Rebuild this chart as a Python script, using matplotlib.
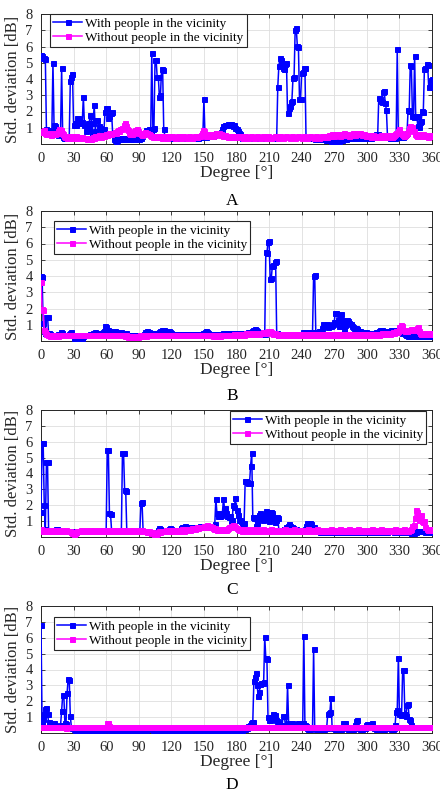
import numpy as np
import matplotlib as mpl
from matplotlib import pyplot as plt

mpl.rcParams['font.family'] = ['Liberation Serif', 'DejaVu Serif']
mpl.rcParams['mathtext.fontset'] = 'stix'

DEGREES = np.arange(0, 361)
X_TICKS = np.arange(0, 361, 30)
Y_TICKS = np.arange(1, 9)
LABEL_WITH = 'With people in the vicinity'
LABEL_WITHOUT = 'Without people in the vicinity'
PANEL_NAMES = ['A', 'B', 'C', 'D']

# --- panel A ---
A_WITH = [
    5.5, 5.4, 5.3, 5.3, 5.25, 0.9, 0.85, 0.6, 0.7, 0.6, 0.8, 5.0, 1.2, 1.1, 0.8, 0.7, 0.55, 0.6, 0.8, 4.65,
    0.45, 0.4, 0.35, 0.4, 0.35, 0.4, 0.45, 3.9, 4.1, 4.3, 1.2, 1.3, 1.2, 1.6, 1.6, 1.3, 1.3, 1.3, 1.35, 2.9,
    1.2, 0.8, 1.2, 1.3, 0.9, 1.8, 1.7, 0.7, 1.3, 2.4, 0.8, 1.5, 1.45, 1.1, 1.0, 0.6, 0.55, 0.6, 0.9, 2.0,
    2.2, 2.2, 1.6, 1.7, 1.9, 1.95, 0.6, 0.3, 0.25, 0.2, 0.25, 0.3, 0.3, 0.35, 0.3, 0.3, 0.35, 0.3, 0.3, 0.35,
    0.3, 0.35, 0.3, 0.35, 0.4, 0.35, 0.3, 0.35, 0.4, 0.35, 0.3, 0.35, 0.4, 0.5, 0.6, 0.7, 0.7, 0.85, 0.85, 0.9,
    0.8, 0.7, 5.6, 0.95, 1.0, 5.2, 5.15, 4.1, 4.15, 2.9, 3.0, 4.6, 4.55, 0.95, 0.5, 0.45, 0.4, 0.4, 0.45, 0.4,
    0.4, 0.35, 0.4, 0.4, 0.45, 0.4, 0.35, 0.4, 0.4, 0.45, 0.4, 0.4, 0.35, 0.4, 0.45, 0.4, 0.4, 0.35, 0.4, 0.4,
    0.45, 0.4, 0.4, 0.35, 0.4, 0.4, 0.45, 0.45, 0.5, 0.5, 2.75, 0.5, 0.45, 0.5, 0.55, 0.5, 0.5, 0.55, 0.5, 0.55,
    0.6, 0.7, 0.7, 0.7, 0.65, 0.7, 0.75, 0.9, 1.1, 1.15, 1.2, 1.2, 1.25, 1.2, 1.15, 1.25, 1.2, 1.1, 1.15, 1.0,
    0.9, 0.8, 0.7, 0.6, 0.45, 0.4, 0.4, 0.35, 0.4, 0.4, 0.45, 0.4, 0.4, 0.35, 0.4, 0.4, 0.45, 0.4, 0.4, 0.35,
    0.4, 0.4, 0.45, 0.4, 0.35, 0.4, 0.4, 0.45, 0.4, 0.4, 0.35, 0.4, 0.4, 0.45, 0.4, 0.4, 0.35, 0.4, 3.5, 4.8,
    5.3, 5.2, 4.95, 4.7, 4.6, 4.9, 5.0, 1.9, 2.2, 2.35, 2.6, 2.65, 4.05, 4.1, 7.0, 7.15, 6.05, 6.0, 2.75, 2.8,
    4.35, 4.45, 4.7, 4.65, 0.45, 0.4, 0.35, 0.4, 0.4, 0.35, 0.4, 0.35, 0.3, 0.35, 0.4, 0.35, 0.3, 0.35, 0.3, 0.35,
    0.3, 0.3, 0.25, 0.3, 0.25, 0.3, 0.25, 0.2, 0.25, 0.2, 0.25, 0.2, 0.2, 0.25, 0.2, 0.25, 0.3, 0.25, 0.3, 0.3,
    0.35, 0.3, 0.35, 0.4, 0.35, 0.4, 0.35, 0.4, 0.4, 0.35, 0.4, 0.4, 0.45, 0.4, 0.4, 0.35, 0.4, 0.4, 0.35, 0.4,
    0.4, 0.35, 0.4, 0.45, 0.4, 0.45, 0.5, 0.55, 0.6, 0.55, 0.6, 2.85, 2.8, 2.65, 2.6, 3.2, 3.25, 2.5, 2.1, 0.5,
    0.45, 0.4, 0.35, 0.4, 0.4, 0.45, 0.4, 0.45, 5.85, 0.5, 0.45, 0.45, 0.5, 0.45, 0.5, 0.55, 0.6, 0.7, 2.1, 2.05,
    4.85, 4.8, 1.7, 1.65, 5.4, 1.7, 1.7, 1.1, 1.05, 1.35, 1.4, 2.05, 2.0, 4.6, 4.7, 4.9, 4.85, 3.5, 3.6, 3.95,
    4.0,
]
A_WITHOUT = [
    0.8, 0.75, 0.8, 0.85, 0.7, 0.6, 0.65, 0.6, 0.7, 0.55, 0.65, 0.6, 0.7, 0.6, 0.65, 0.7, 0.8, 0.9, 0.85, 0.7,
    0.6, 0.5, 0.45, 0.5, 0.4, 0.45, 0.4, 0.45, 0.5, 0.45, 0.4, 0.45, 0.5, 0.4, 0.45, 0.4, 0.35, 0.4, 0.45, 0.4,
    0.4, 0.35, 0.3, 0.35, 0.4, 0.35, 0.3, 0.4, 0.45, 0.4, 0.5, 0.45, 0.5, 0.55, 0.5, 0.45, 0.5, 0.55, 0.5, 0.55,
    0.6, 0.55, 0.6, 0.65, 0.6, 0.7, 0.65, 0.7, 0.75, 0.7, 0.8, 0.85, 0.8, 0.9, 0.95, 1.0, 1.15, 1.3, 1.1, 0.9,
    0.85, 0.7, 0.6, 0.65, 0.6, 0.7, 0.8, 0.85, 0.9, 0.8, 0.7, 0.65, 0.6, 0.55, 0.6, 0.7, 0.75, 0.7, 0.65, 0.6,
    0.55, 0.5, 0.5, 0.45, 0.5, 0.45, 0.5, 0.45, 0.45, 0.5, 0.45, 0.4, 0.45, 0.5, 0.45, 0.45, 0.4, 0.45, 0.5, 0.45,
    0.45, 0.5, 0.45, 0.4, 0.45, 0.45, 0.5, 0.45, 0.45, 0.4, 0.45, 0.5, 0.45, 0.45, 0.4, 0.45, 0.5, 0.45, 0.45, 0.4,
    0.45, 0.45, 0.5, 0.45, 0.45, 0.5, 0.5, 0.55, 0.7, 0.85, 0.8, 0.6, 0.5, 0.55, 0.5, 0.55, 0.6, 0.55, 0.5, 0.55,
    0.6, 0.65, 0.7, 0.6, 0.65, 0.55, 0.6, 0.55, 0.5, 0.55, 0.5, 0.5, 0.45, 0.5, 0.45, 0.5, 0.45, 0.5, 0.45, 0.45,
    0.5, 0.45, 0.45, 0.5, 0.45, 0.45, 0.4, 0.45, 0.5, 0.45, 0.45, 0.4, 0.45, 0.5, 0.45, 0.45, 0.4, 0.45, 0.45, 0.5,
    0.45, 0.45, 0.4, 0.45, 0.5, 0.45, 0.45, 0.4, 0.45, 0.5, 0.45, 0.45, 0.4, 0.45, 0.45, 0.5, 0.45, 0.45, 0.4, 0.45,
    0.5, 0.45, 0.45, 0.4, 0.45, 0.45, 0.5, 0.45, 0.45, 0.4, 0.45, 0.5, 0.45, 0.45, 0.4, 0.45, 0.45, 0.5, 0.45, 0.45,
    0.4, 0.45, 0.5, 0.45, 0.45, 0.4, 0.45, 0.45, 0.5, 0.45, 0.45, 0.4, 0.45, 0.5, 0.45, 0.45, 0.4, 0.45, 0.45, 0.5,
    0.45, 0.45, 0.5, 0.45, 0.5, 0.55, 0.5, 0.55, 0.6, 0.55, 0.5, 0.55, 0.6, 0.55, 0.6, 0.5, 0.55, 0.6, 0.55, 0.65,
    0.6, 0.55, 0.6, 0.55, 0.5, 0.55, 0.6, 0.65, 0.6, 0.55, 0.6, 0.65, 0.6, 0.65, 0.7, 0.6, 0.55, 0.6, 0.55, 0.5,
    0.55, 0.5, 0.55, 0.5, 0.45, 0.5, 0.55, 0.5, 0.45, 0.5, 0.5, 0.45, 0.5, 0.55, 0.5, 0.45, 0.5, 0.55, 0.5, 0.45,
    0.5, 0.55, 0.5, 0.45, 0.5, 0.55, 0.6, 0.65, 0.7, 0.8, 0.9, 0.7, 0.6, 0.55, 0.5, 0.55, 0.6, 0.65, 0.8, 1.0,
    1.1, 1.0, 1.05, 0.8, 0.6, 0.55, 0.5, 0.55, 0.6, 0.55, 0.5, 0.55, 0.6, 0.5, 0.55, 0.5, 0.45, 0.5, 0.55, 0.5,
    0.5,
]

# --- panel B ---
B_WITH = [
    4.0, 3.95, 1.1, 0.6, 0.5, 1.5, 1.5, 0.5, 0.45, 0.4, 0.4, 0.35, 0.4, 0.4, 0.35, 0.4, 0.45, 0.4, 0.55, 0.5,
    0.4, 0.35, 0.4, 0.35, 0.4, 0.4, 0.45, 0.5, 0.55, 0.4, 0.2, 0.15, 0.1, 0.15, 0.1, 0.15, 0.1, 0.15, 0.2, 0.3,
    0.35, 0.4, 0.35, 0.4, 0.4, 0.45, 0.4, 0.45, 0.5, 0.5, 0.55, 0.5, 0.45, 0.5, 0.45, 0.5, 0.5, 0.55, 0.6, 0.9,
    0.85, 0.7, 0.65, 0.6, 0.55, 0.6, 0.55, 0.6, 0.6, 0.55, 0.5, 0.55, 0.5, 0.5, 0.55, 0.5, 0.5, 0.45, 0.5, 0.4,
    0.35, 0.3, 0.35, 0.3, 0.35, 0.3, 0.3, 0.35, 0.3, 0.35, 0.3, 0.35, 0.4, 0.35, 0.4, 0.45, 0.55, 0.55, 0.6, 0.55,
    0.5, 0.45, 0.45, 0.5, 0.45, 0.5, 0.45, 0.5, 0.5, 0.55, 0.6, 0.65, 0.6, 0.65, 0.6, 0.55, 0.5, 0.55, 0.6, 0.55,
    0.5, 0.45, 0.45, 0.4, 0.45, 0.4, 0.45, 0.4, 0.45, 0.45, 0.4, 0.45, 0.4, 0.45, 0.4, 0.45, 0.45, 0.4, 0.45, 0.4,
    0.45, 0.4, 0.45, 0.45, 0.4, 0.45, 0.4, 0.45, 0.45, 0.5, 0.5, 0.55, 0.6, 0.55, 0.5, 0.45, 0.45, 0.4, 0.45, 0.4,
    0.45, 0.4, 0.45, 0.4, 0.45, 0.45, 0.4, 0.45, 0.5, 0.45, 0.45, 0.5, 0.45, 0.5, 0.45, 0.5, 0.45, 0.45, 0.5, 0.45,
    0.5, 0.45, 0.5, 0.45, 0.5, 0.5, 0.45, 0.5, 0.45, 0.5, 0.5, 0.55, 0.5, 0.55, 0.6, 0.65, 0.7, 0.75, 0.7, 0.6,
    0.5, 0.55, 0.5, 0.5, 0.45, 0.5, 0.45, 5.45, 5.4, 6.1, 6.15, 3.8, 3.85, 4.6, 4.7, 4.85, 4.9, 0.5, 0.4, 0.35,
    0.4, 0.35, 0.4, 0.35, 0.4, 0.4, 0.35, 0.4, 0.4, 0.35, 0.4, 0.4, 0.35, 0.4, 0.4, 0.45, 0.4, 0.4, 0.45, 0.4,
    0.45, 0.55, 0.55, 0.5, 0.5, 0.55, 0.5, 0.5, 0.55, 0.5, 0.55, 4.0, 4.05, 0.55, 0.5, 0.55, 0.6, 0.55, 0.6, 0.8,
    1.05, 1.0, 0.9, 1.05, 0.85, 0.95, 1.0, 0.9, 1.0, 1.05, 1.2, 1.75, 1.7, 1.3, 0.9, 1.6, 1.65, 1.3, 1.0, 0.75,
    1.0, 1.15, 1.3, 1.25, 1.1, 1.05, 0.95, 0.85, 0.8, 0.75, 0.8, 0.75, 0.6, 0.55, 0.6, 0.55, 0.5, 0.55, 0.5, 0.55,
    0.5, 0.45, 0.5, 0.45, 0.5, 0.45, 0.5, 0.5, 0.55, 0.5, 0.55, 0.6, 0.65, 0.6, 0.65, 0.6, 0.55, 0.6, 0.6, 0.55,
    0.6, 0.6, 0.65, 0.6, 0.65, 0.6, 0.65, 0.7, 0.7, 0.65, 0.7, 0.55, 0.5, 0.55, 0.5, 0.45, 0.4, 0.35, 0.3, 0.35,
    0.3, 0.35, 0.3, 0.3, 0.35, 0.3, 0.3, 0.35, 0.3, 0.3, 0.35, 0.3, 0.3, 0.35, 0.3, 0.3, 0.35, 0.3, 0.3, 0.3,
    0.3,
]
B_WITHOUT = [
    3.65, 2.0, 1.9, 0.7, 0.55, 0.45, 0.4, 0.35, 0.3, 0.35, 0.3, 0.35, 0.3, 0.35, 0.4, 0.35, 0.3, 0.35, 0.4, 0.35,
    0.35, 0.4, 0.35, 0.4, 0.35, 0.4, 0.4, 0.35, 0.4, 0.35, 0.4, 0.4, 0.35, 0.4, 0.4, 0.35, 0.4, 0.4, 0.35, 0.4,
    0.4, 0.35, 0.4, 0.4, 0.35, 0.4, 0.4, 0.35, 0.4, 0.4, 0.35, 0.4, 0.4, 0.35, 0.4, 0.4, 0.35, 0.4, 0.4, 0.35,
    0.4, 0.4, 0.35, 0.4, 0.4, 0.35, 0.4, 0.4, 0.35, 0.4, 0.4, 0.35, 0.4, 0.4, 0.35, 0.4, 0.35, 0.3, 0.35, 0.3,
    0.25, 0.3, 0.25, 0.3, 0.25, 0.3, 0.25, 0.3, 0.3, 0.25, 0.3, 0.35, 0.3, 0.35, 0.3, 0.35, 0.35, 0.3, 0.35, 0.35,
    0.4, 0.35, 0.35, 0.4, 0.35, 0.4, 0.4, 0.35, 0.4, 0.4, 0.35, 0.4, 0.4, 0.35, 0.4, 0.4, 0.35, 0.4, 0.4, 0.35,
    0.4, 0.4, 0.35, 0.4, 0.4, 0.35, 0.4, 0.4, 0.35, 0.4, 0.4, 0.35, 0.4, 0.4, 0.35, 0.4, 0.4, 0.35, 0.4, 0.4,
    0.35, 0.4, 0.4, 0.35, 0.4, 0.4, 0.35, 0.4, 0.4, 0.35, 0.4, 0.4, 0.35, 0.4, 0.4, 0.35, 0.4, 0.35, 0.3, 0.35,
    0.3, 0.35, 0.3, 0.35, 0.35, 0.3, 0.35, 0.35, 0.4, 0.35, 0.4, 0.4, 0.35, 0.4, 0.4, 0.35, 0.4, 0.4, 0.45, 0.4,
    0.45, 0.4, 0.45, 0.45, 0.4, 0.45, 0.45, 0.4, 0.45, 0.5, 0.45, 0.5, 0.45, 0.5, 0.5, 0.45, 0.5, 0.5, 0.45, 0.5,
    0.5, 0.45, 0.5, 0.5, 0.55, 0.5, 0.55, 0.5, 0.55, 0.6, 0.55, 0.6, 0.55, 0.5, 0.45, 0.5, 0.45, 0.45, 0.4, 0.45,
    0.45, 0.4, 0.45, 0.45, 0.4, 0.45, 0.45, 0.4, 0.45, 0.45, 0.4, 0.45, 0.45, 0.4, 0.45, 0.45, 0.4, 0.45, 0.45, 0.4,
    0.45, 0.45, 0.4, 0.45, 0.45, 0.4, 0.45, 0.45, 0.4, 0.45, 0.45, 0.4, 0.45, 0.45, 0.4, 0.45, 0.45, 0.4, 0.45, 0.45,
    0.4, 0.45, 0.45, 0.4, 0.45, 0.45, 0.4, 0.45, 0.45, 0.4, 0.45, 0.45, 0.4, 0.45, 0.45, 0.4, 0.45, 0.45, 0.4, 0.45,
    0.45, 0.4, 0.45, 0.45, 0.4, 0.45, 0.45, 0.4, 0.45, 0.45, 0.4, 0.45, 0.45, 0.4, 0.45, 0.45, 0.4, 0.45, 0.45, 0.4,
    0.45, 0.45, 0.4, 0.45, 0.45, 0.4, 0.45, 0.45, 0.4, 0.45, 0.45, 0.4, 0.45, 0.45, 0.5, 0.45, 0.5, 0.5, 0.45, 0.5,
    0.5, 0.45, 0.5, 0.5, 0.55, 0.5, 0.55, 0.6, 0.55, 0.6, 0.85, 1.0, 0.95, 0.7, 0.65, 0.6, 0.65, 0.6, 0.65, 0.7,
    0.7, 0.75, 0.7, 0.75, 0.7, 0.75, 0.8, 0.85, 0.6, 0.5, 0.45, 0.5, 0.45, 0.5, 0.45, 0.5, 0.45, 0.5, 0.45, 0.5,
    0.45,
]

# --- panel C ---
C_WITH = [
    1.6, 5.9, 5.9, 2.0, 0.5, 4.7, 4.7, 0.4, 0.35, 0.4, 0.35, 0.4, 0.4, 0.45, 0.5, 0.5, 0.45, 0.4, 0.35, 0.4,
    0.35, 0.4, 0.35, 0.4, 0.4, 0.35, 0.4, 0.35, 0.4, 0.35, 0.3, 0.35, 0.3, 0.35, 0.4, 0.35, 0.4, 0.35, 0.4, 0.4,
    0.35, 0.4, 0.35, 0.4, 0.4, 0.35, 0.4, 0.35, 0.4, 0.4, 0.35, 0.4, 0.35, 0.4, 0.4, 0.35, 0.4, 0.35, 0.4, 0.4,
    0.45, 5.45, 5.5, 1.5, 1.45, 0.4, 0.35, 0.35, 0.4, 0.35, 0.35, 0.4, 0.35, 0.35, 0.4, 5.3, 5.3, 2.95, 2.9, 0.35,
    0.35, 0.4, 0.35, 0.35, 0.4, 0.35, 0.35, 0.4, 0.35, 0.35, 0.4, 0.4, 2.15, 2.2, 0.4, 0.4, 0.35, 0.4, 0.35, 0.3,
    0.3, 0.25, 0.3, 0.25, 0.2, 0.25, 0.2, 0.3, 0.45, 0.55, 0.5, 0.4, 0.35, 0.4, 0.35, 0.4, 0.35, 0.4, 0.5, 0.55,
    0.5, 0.45, 0.4, 0.45, 0.4, 0.45, 0.4, 0.45, 0.45, 0.55, 0.6, 0.55, 0.6, 0.7, 0.65, 0.55, 0.5, 0.55, 0.6, 0.55,
    0.6, 0.6, 0.55, 0.6, 0.65, 0.6, 0.7, 0.65, 0.6, 0.65, 0.7, 0.65, 0.6, 0.65, 0.7, 0.6, 0.65, 0.7, 0.65, 0.7,
    0.8, 2.4, 1.5, 1.35, 1.3, 1.3, 1.4, 1.5, 2.4, 1.8, 1.5, 1.3, 1.3, 1.25, 1.3, 0.9, 1.1, 2.0, 1.9, 2.45,
    1.7, 1.4, 1.05, 1.1, 1.0, 0.9, 0.85, 0.9, 3.55, 3.5, 3.45, 3.4, 3.4, 4.5, 5.3, 1.25, 1.2, 1.25, 0.7, 0.9,
    1.2, 1.4, 1.5, 1.3, 1.05, 1.2, 1.4, 1.65, 1.5, 1.25, 1.0, 1.6, 1.55, 1.5, 1.2, 0.95, 1.1, 1.25, 1.2, 0.45,
    0.4, 0.45, 0.4, 0.45, 0.5, 0.45, 0.6, 0.7, 0.8, 0.7, 0.55, 0.6, 0.55, 0.5, 0.45, 0.5, 0.45, 0.4, 0.45, 0.4,
    0.45, 0.4, 0.45, 0.5, 0.7, 0.9, 0.85, 0.65, 0.9, 0.85, 0.65, 0.6, 0.5, 0.4, 0.35, 0.4, 0.35, 0.3, 0.35, 0.3,
    0.35, 0.3, 0.35, 0.3, 0.35, 0.3, 0.35, 0.3, 0.35, 0.3, 0.35, 0.3, 0.35, 0.3, 0.35, 0.3, 0.35, 0.3, 0.35, 0.3,
    0.35, 0.3, 0.35, 0.3, 0.35, 0.3, 0.35, 0.3, 0.35, 0.3, 0.35, 0.3, 0.35, 0.3, 0.35, 0.3, 0.35, 0.3, 0.35, 0.3,
    0.35, 0.3, 0.35, 0.3, 0.35, 0.3, 0.35, 0.3, 0.35, 0.3, 0.35, 0.3, 0.35, 0.3, 0.35, 0.3, 0.35, 0.3, 0.35, 0.3,
    0.35, 0.4, 0.45, 0.4, 0.35, 0.3, 0.35, 0.3, 0.35, 0.3, 0.35, 0.3, 0.35, 0.3, 0.35, 0.3, 0.35, 0.3, 0.35, 0.3,
    0.3, 0.25, 0.3, 0.25, 0.3, 0.3, 0.35, 0.4, 0.4, 0.35, 0.4, 0.35, 0.4, 0.35, 0.3, 0.35, 0.3, 0.35, 0.3, 0.35,
    0.3,
]
C_WITHOUT = [
    0.5, 0.45, 0.4, 0.45, 0.4, 0.35, 0.4, 0.45, 0.4, 0.35, 0.4, 0.45, 0.4, 0.35, 0.4, 0.45, 0.4, 0.35, 0.4, 0.45,
    0.4, 0.35, 0.4, 0.45, 0.4, 0.35, 0.4, 0.35, 0.3, 0.25, 0.2, 0.25, 0.3, 0.35, 0.4, 0.35, 0.4, 0.45, 0.4, 0.35,
    0.4, 0.45, 0.4, 0.35, 0.4, 0.45, 0.4, 0.35, 0.4, 0.45, 0.4, 0.35, 0.4, 0.45, 0.4, 0.35, 0.4, 0.45, 0.4, 0.35,
    0.4, 0.45, 0.4, 0.35, 0.4, 0.45, 0.4, 0.35, 0.4, 0.45, 0.4, 0.35, 0.4, 0.45, 0.4, 0.35, 0.4, 0.45, 0.4, 0.35,
    0.4, 0.45, 0.4, 0.35, 0.4, 0.45, 0.4, 0.35, 0.4, 0.45, 0.4, 0.35, 0.4, 0.45, 0.4, 0.35, 0.4, 0.35, 0.3, 0.35,
    0.3, 0.25, 0.3, 0.25, 0.2, 0.25, 0.2, 0.25, 0.3, 0.35, 0.3, 0.35, 0.4, 0.35, 0.4, 0.45, 0.4, 0.35, 0.4, 0.45,
    0.4, 0.45, 0.4, 0.35, 0.4, 0.45, 0.4, 0.45, 0.4, 0.45, 0.5, 0.45, 0.4, 0.45, 0.5, 0.45, 0.5, 0.45, 0.5, 0.55,
    0.5, 0.55, 0.5, 0.55, 0.6, 0.55, 0.6, 0.65, 0.6, 0.65, 0.7, 0.65, 0.7, 0.75, 0.7, 0.65, 0.7, 0.6, 0.55, 0.5,
    0.55, 0.5, 0.45, 0.5, 0.45, 0.5, 0.45, 0.5, 0.45, 0.5, 0.45, 0.5, 0.55, 0.6, 0.65, 0.7, 0.65, 0.75, 0.7, 0.6,
    0.55, 0.5, 0.45, 0.5, 0.45, 0.4, 0.45, 0.5, 0.45, 0.4, 0.45, 0.5, 0.45, 0.4, 0.45, 0.5, 0.45, 0.4, 0.45, 0.5,
    0.4, 0.45, 0.4, 0.45, 0.5, 0.45, 0.4, 0.45, 0.4, 0.45, 0.4, 0.45, 0.5, 0.45, 0.4, 0.45, 0.4, 0.45, 0.4, 0.45,
    0.45, 0.4, 0.45, 0.4, 0.45, 0.5, 0.45, 0.4, 0.45, 0.4, 0.45, 0.4, 0.45, 0.5, 0.45, 0.4, 0.45, 0.4, 0.45, 0.4,
    0.4, 0.45, 0.4, 0.45, 0.4, 0.45, 0.5, 0.45, 0.4, 0.45, 0.4, 0.45, 0.4, 0.45, 0.5, 0.45, 0.4, 0.45, 0.4, 0.45,
    0.45, 0.4, 0.45, 0.4, 0.45, 0.4, 0.45, 0.5, 0.45, 0.4, 0.45, 0.4, 0.45, 0.4, 0.45, 0.5, 0.45, 0.4, 0.45, 0.4,
    0.4, 0.45, 0.4, 0.45, 0.5, 0.45, 0.4, 0.45, 0.4, 0.45, 0.4, 0.45, 0.5, 0.45, 0.4, 0.45, 0.4, 0.45, 0.4, 0.45,
    0.45, 0.4, 0.45, 0.4, 0.45, 0.5, 0.45, 0.4, 0.45, 0.4, 0.45, 0.4, 0.45, 0.5, 0.45, 0.4, 0.45, 0.4, 0.45, 0.4,
    0.4, 0.45, 0.4, 0.45, 0.4, 0.45, 0.5, 0.45, 0.4, 0.45, 0.4, 0.45, 0.4, 0.45, 0.5, 0.45, 0.4, 0.45, 0.4, 0.45,
    0.45, 0.5, 0.7, 0.75, 1.2, 1.7, 1.6, 1.4, 1.1, 1.35, 1.4, 1.0, 0.95, 1.0, 0.6, 0.5, 0.45, 0.5, 0.45, 0.5,
    0.45,
]

# --- panel D ---
D_WITH = [
    6.8, 0.65, 0.9, 1.2, 1.5, 1.6, 1.2, 0.7, 0.6, 0.55, 0.5, 0.6, 0.65, 0.5, 0.4, 0.4, 0.45, 0.4, 0.5, 1.4,
    2.4, 2.4, 0.6, 0.55, 2.5, 3.4, 3.35, 1.05, 0.35, 0.3, 0.25, 0.2, 0.25, 0.2, 0.25, 0.2, 0.25, 0.2, 0.25, 0.2,
    0.25, 0.2, 0.25, 0.3, 0.25, 0.2, 0.25, 0.3, 0.25, 0.2, 0.25, 0.3, 0.25, 0.2, 0.25, 0.3, 0.25, 0.2, 0.25, 0.3,
    0.25, 0.3, 0.25, 0.2, 0.25, 0.3, 0.25, 0.2, 0.25, 0.3, 0.25, 0.2, 0.25, 0.15, 0.2, 0.15, 0.2, 0.25, 0.2, 0.25,
    0.25, 0.2, 0.25, 0.3, 0.25, 0.2, 0.25, 0.3, 0.25, 0.2, 0.25, 0.3, 0.25, 0.2, 0.25, 0.3, 0.25, 0.2, 0.25, 0.3,
    0.25, 0.3, 0.25, 0.2, 0.25, 0.3, 0.25, 0.2, 0.25, 0.3, 0.25, 0.2, 0.25, 0.3, 0.25, 0.2, 0.25, 0.3, 0.25, 0.2,
    0.25, 0.2, 0.25, 0.3, 0.25, 0.2, 0.25, 0.3, 0.25, 0.2, 0.25, 0.3, 0.25, 0.2, 0.25, 0.3, 0.25, 0.2, 0.25, 0.3,
    0.25, 0.3, 0.25, 0.2, 0.25, 0.3, 0.25, 0.2, 0.25, 0.3, 0.25, 0.2, 0.25, 0.3, 0.25, 0.2, 0.25, 0.3, 0.25, 0.2,
    0.25, 0.2, 0.25, 0.3, 0.25, 0.2, 0.25, 0.3, 0.25, 0.2, 0.25, 0.3, 0.25, 0.2, 0.25, 0.3, 0.25, 0.2, 0.25, 0.3,
    0.25, 0.2, 0.25, 0.3, 0.25, 0.2, 0.25, 0.3, 0.25, 0.3, 0.3, 0.45, 0.5, 0.6, 0.7, 0.7, 3.3, 3.5, 3.8, 3.0,
    2.3, 2.6, 3.1, 3.15, 3.15, 3.2, 6.05, 4.7, 4.65, 1.0, 0.85, 0.8, 0.9, 1.0, 1.2, 1.15, 0.8, 0.75, 0.6, 0.7,
    0.5, 0.4, 0.5, 1.1, 1.1, 0.5, 0.5, 3.0, 0.6, 0.6, 0.55, 0.6, 0.45, 0.4, 0.4, 0.5, 0.55, 0.6, 0.6, 0.6,
    0.5, 0.6, 6.1, 0.5, 0.45, 0.3, 0.25, 0.3, 0.25, 0.3, 0.3, 5.3, 0.3, 0.25, 0.3, 0.25, 0.3, 0.25, 0.3, 0.25,
    0.3, 0.25, 0.3, 0.3, 1.2, 1.25, 1.3, 2.2, 0.4, 0.3, 0.3, 0.25, 0.3, 0.25, 0.3, 0.3, 0.25, 0.4, 0.6, 0.65,
    0.6, 0.4, 0.3, 0.25, 0.3, 0.25, 0.3, 0.25, 0.3, 0.5, 0.75, 0.8, 0.4, 0.3, 0.25, 0.3, 0.25, 0.3, 0.3, 0.5,
    0.55, 0.5, 0.45, 0.5, 0.55, 0.6, 0.4, 0.3, 0.25, 0.3, 0.25, 0.3, 0.25, 0.3, 0.25, 0.3, 0.25, 0.3, 0.3, 0.35,
    0.4, 0.3, 0.25, 0.3, 0.25, 0.3, 0.5, 1.35, 1.45, 4.7, 1.2, 1.15, 1.2, 4.0, 3.95, 1.2, 1.1, 1.75, 1.8, 0.9,
    0.85, 0.5, 0.4, 0.35, 0.4, 0.35, 0.4, 0.35, 0.4, 0.35, 0.4, 0.35, 0.4, 0.35, 0.4, 0.35, 0.4, 0.35, 0.4, 0.35,
    0.4,
]
D_WITHOUT = [
    0.4, 0.35, 0.4, 0.35, 0.4, 0.4, 0.35, 0.4, 0.35, 0.4, 0.4, 0.35, 0.4, 0.35, 0.4, 0.4, 0.35, 0.4, 0.35, 0.4,
    0.35, 0.4, 0.35, 0.3, 0.35, 0.4, 0.35, 0.4, 0.35, 0.4, 0.4, 0.35, 0.4, 0.35, 0.4, 0.4, 0.35, 0.4, 0.35, 0.4,
    0.4, 0.35, 0.4, 0.35, 0.4, 0.4, 0.35, 0.4, 0.35, 0.4, 0.4, 0.35, 0.4, 0.35, 0.4, 0.4, 0.35, 0.4, 0.35, 0.4,
    0.4, 0.6, 0.65, 0.45, 0.4, 0.35, 0.4, 0.35, 0.4, 0.4, 0.35, 0.4, 0.35, 0.4, 0.4, 0.35, 0.4, 0.35, 0.4, 0.4,
    0.35, 0.4, 0.35, 0.4, 0.4, 0.35, 0.4, 0.35, 0.4, 0.4, 0.35, 0.4, 0.35, 0.4, 0.4, 0.35, 0.4, 0.35, 0.4, 0.4,
    0.4, 0.35, 0.4, 0.35, 0.4, 0.4, 0.35, 0.4, 0.35, 0.4, 0.4, 0.35, 0.4, 0.35, 0.4, 0.4, 0.35, 0.4, 0.35, 0.4,
    0.35, 0.4, 0.35, 0.4, 0.4, 0.35, 0.4, 0.35, 0.4, 0.4, 0.35, 0.4, 0.35, 0.4, 0.4, 0.35, 0.4, 0.35, 0.4, 0.4,
    0.4, 0.35, 0.4, 0.35, 0.4, 0.4, 0.35, 0.4, 0.35, 0.4, 0.4, 0.35, 0.4, 0.35, 0.4, 0.4, 0.35, 0.4, 0.35, 0.4,
    0.35, 0.4, 0.35, 0.4, 0.4, 0.35, 0.4, 0.35, 0.4, 0.4, 0.35, 0.4, 0.35, 0.4, 0.4, 0.35, 0.4, 0.35, 0.4, 0.4,
    0.4, 0.35, 0.4, 0.35, 0.4, 0.4, 0.35, 0.4, 0.35, 0.4, 0.4, 0.35, 0.4, 0.35, 0.4, 0.4, 0.35, 0.4, 0.35, 0.4,
    0.35, 0.4, 0.35, 0.4, 0.4, 0.35, 0.4, 0.35, 0.4, 0.4, 0.35, 0.4, 0.35, 0.4, 0.4, 0.35, 0.4, 0.35, 0.4, 0.4,
    0.4, 0.35, 0.4, 0.35, 0.4, 0.4, 0.35, 0.4, 0.35, 0.4, 0.4, 0.35, 0.4, 0.35, 0.4, 0.4, 0.35, 0.4, 0.35, 0.4,
    0.35, 0.4, 0.35, 0.4, 0.4, 0.35, 0.4, 0.35, 0.4, 0.4, 0.35, 0.4, 0.35, 0.4, 0.4, 0.35, 0.4, 0.35, 0.4, 0.4,
    0.4, 0.35, 0.4, 0.35, 0.4, 0.4, 0.35, 0.4, 0.35, 0.4, 0.4, 0.35, 0.4, 0.35, 0.4, 0.4, 0.35, 0.4, 0.35, 0.4,
    0.35, 0.4, 0.35, 0.4, 0.4, 0.35, 0.4, 0.35, 0.4, 0.4, 0.35, 0.4, 0.35, 0.4, 0.4, 0.35, 0.4, 0.35, 0.4, 0.4,
    0.4, 0.35, 0.4, 0.35, 0.4, 0.4, 0.35, 0.4, 0.35, 0.4, 0.4, 0.35, 0.4, 0.35, 0.4, 0.4, 0.35, 0.4, 0.35, 0.4,
    0.35, 0.4, 0.35, 0.4, 0.4, 0.35, 0.4, 0.35, 0.4, 0.4, 0.35, 0.4, 0.35, 0.4, 0.4, 0.35, 0.4, 0.35, 0.4, 0.4,
    0.4, 0.35, 0.4, 0.35, 0.4, 0.4, 0.35, 0.4, 0.35, 0.4, 0.4, 0.35, 0.4, 0.35, 0.4, 0.4, 0.35, 0.4, 0.35, 0.4,
    0.4,
]

for s in (A_WITH, A_WITHOUT, B_WITH, B_WITHOUT, C_WITH, C_WITHOUT, D_WITH, D_WITHOUT):
    assert len(s) == len(DEGREES), len(s)

W, H = 440, 794
TXT = '#262626'

# axes boxes in pixels: left, top, right, bottom
BOXES = [(41, 14, 432, 144), (41, 211, 432, 341), (41, 410, 432, 537), (41, 606, 432, 733)]
# legend anchor (axes fraction) and loc
LEGENDS = [((0.023, 1.0), 'upper left'), ((0.033, 0.923), 'upper left'),
           ((0.985, 0.99), 'upper right'), ((0.033, 0.913), 'upper left')]
NAME_Y = [201, 396, 590, 785]

fig = plt.figure(figsize=(W / 100, H / 100), dpi=100)

series = [(A_WITH, A_WITHOUT), (B_WITH, B_WITHOUT), (C_WITH, C_WITHOUT), (D_WITH, D_WITHOUT)]

for k in range(4):
	l, t, r, b = BOXES[k]
	ax = fig.add_axes([l / W, 1 - b / H, (r - l) / W, (b - t) / H])
	with_p, without_p = series[k]
	ax.plot(DEGREES, with_p, color='#0000ff', lw=1.1, marker='s', ms=3.6, mew=0.7,
	        label=LABEL_WITH, zorder=3)
	ax.plot(DEGREES, without_p, color='#ff00ff', lw=1.1, marker='s', ms=3.6, mew=0.7,
	        label=LABEL_WITHOUT, zorder=4)
	ax.set_xlim(0, 360)
	ax.set_ylim(0, 8)
	ax.set_xticks(X_TICKS)
	ax.set_yticks(Y_TICKS)
	ax.grid(True, color='#dedede', lw=0.6)
	ax.set_axisbelow(True)
	ax.tick_params(direction='in', top=True, right=True, length=3, width=0.6,
	               labelsize=10.5, colors=TXT, pad=6)
	for sp in ax.spines.values():
		sp.set_color(TXT)
		sp.set_linewidth(0.7)
	ax.set_xlabel('Degree [°]', fontsize=12.5, color=TXT, labelpad=0)
	ax.set_ylabel('Std. deviation [dB]', fontsize=12, color=TXT, labelpad=3)
	anchor, loc = LEGENDS[k]
	leg = ax.legend(loc=loc, bbox_to_anchor=anchor, fontsize=9.5, fancybox=False,
	                framealpha=1, edgecolor='#262626', borderpad=0.25, labelspacing=0.15,
	                handlelength=2.2, handletextpad=0.2, borderaxespad=0)
	leg.get_frame().set_linewidth(0.8)
	fig.text(232 / W, 1 - NAME_Y[k] / H, PANEL_NAMES[k], fontsize=12.5,
	         ha='center', va='center', color='black')

fig.savefig('out.png', dpi=100)
